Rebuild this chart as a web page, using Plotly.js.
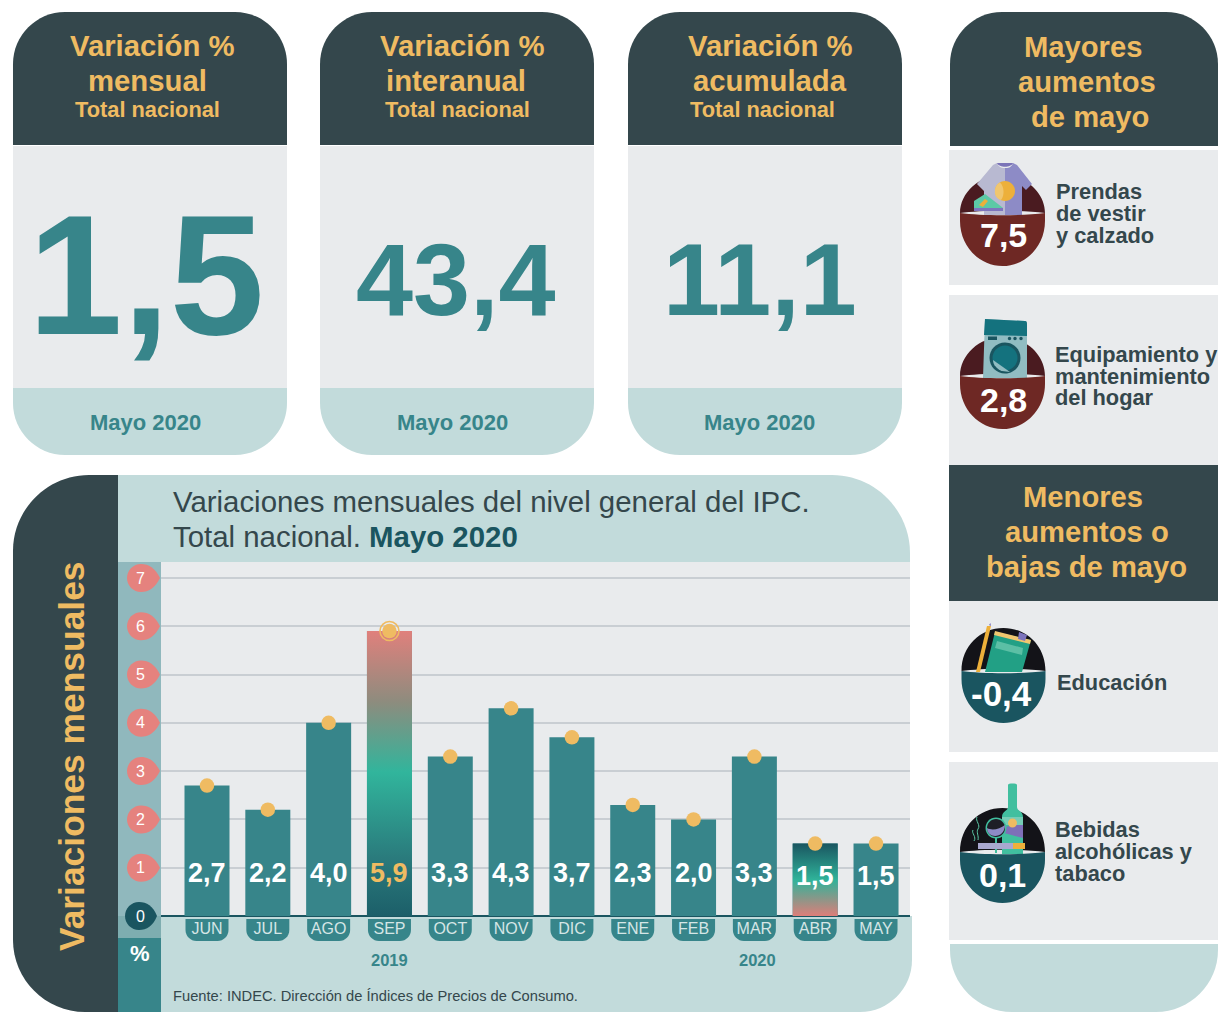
<!DOCTYPE html>
<html><head><meta charset="utf-8">
<script src="https://cdn.plot.ly/plotly-3.0.1.min.js"></script>
<style>html,body{margin:0;padding:0;background:#fff;overflow:hidden}#c{width:1218px;height:1012px}</style>
</head><body><div id="c"></div>
<script>
// ---------- data ----------
const months = ['JUN','JUL','AGO','SEP','OCT','NOV','DIC','ENE','FEB','MAR','ABR','MAY'];
const values = [2.7,2.2,4.0,5.9,3.3,4.3,3.7,2.3,2.0,3.3,1.5,1.5];
const years = ['2019','2020'];
const yTicks = [0,1,2,3,4,5,6,7];
const headlineTitles = [['Variación %','mensual'],['Variación %','interanual'],['Variación %','acumulada']];
const headlineValues = ['1,5','43,4','11,1'];
const period = 'Mayo 2020';
const scope = 'Total nacional';
const rises = [{v:'7,5',t:['Prendas','de vestir','y calzado']},{v:'2,8',t:['Equipamiento y','mantenimiento','del hogar']}];
const falls = [{v:'-0,4',t:['Educación']},{v:'0,1',t:['Bebidas','alcohólicas y','tabaco']}];

// ---------- palette / helpers ----------
const W=1218,H=1012,F='Liberation Sans';
const DARK='#34474c',TEAL='#37858a',PALE='#c2dbdb',GREY='#e9ebed',GOLD='#efbb62',DEEP='#1a5560',PINK='#e5827e';
const fmt=v=>v.toFixed(1).replace('.',',');
const PX=x=>x/W, PY=y=>1-y/H;
function P(d){let isX=true;return d.replace(/-?\d+(\.\d+)?/g,m=>{const r=isX?PX(+m):PY(+m);isX=!isX;return r.toFixed(5);});}
const shapes=[],ann=[];
function S(d,fill,layer){shapes.push({type:'path',xref:'paper',yref:'paper',path:P(d),fillcolor:fill,line:{width:0},layer:layer||'below'});}
function L(d,color,w,layer){shapes.push({type:'path',xref:'paper',yref:'paper',path:P(d),fillcolor:'rgba(0,0,0,0)',line:{color:color,width:w},layer:layer||'above'});}
function rr(x0,y0,x1,y1,r){const [a,b,c,d]=r,k=0.45;
 return `M ${x0+a} ${y0} L ${x1-b} ${y0} C ${x1-b*k} ${y0} ${x1} ${y0+b*k} ${x1} ${y0+b} L ${x1} ${y1-c} C ${x1} ${y1-c*k} ${x1-c*k} ${y1} ${x1-c} ${y1} L ${x0+d} ${y1} C ${x0+d*k} ${y1} ${x0} ${y1-d*k} ${x0} ${y1-d} L ${x0} ${y0+a} C ${x0} ${y0+a*k} ${x0+a*k} ${y0} ${x0+a} ${y0} Z`;}
function box(x0,y0,x1,y1,fill,r,layer){S(rr(x0,y0,x1,y1,r||[0,0,0,0]),fill,layer);}
function circ(cx,cy,r,fill,layer){const k=.5523*r;S(`M ${cx-r} ${cy} C ${cx-r} ${cy-k} ${cx-k} ${cy-r} ${cx} ${cy-r} C ${cx+k} ${cy-r} ${cx+r} ${cy-k} ${cx+r} ${cy} C ${cx+r} ${cy+k} ${cx+k} ${cy+r} ${cx} ${cy+r} C ${cx-k} ${cy+r} ${cx-r} ${cy+k} ${cx-r} ${cy} Z`,fill,layer||'above');}
function T(text,x,y,size,color,o){o=o||{};const left=o.anchor==='left';ann.push({text:text,xref:'paper',yref:'paper',x:PX(left?x-2:x),y:PY(y),xanchor:o.anchor||'center',yanchor:'middle',showarrow:false,textangle:o.angle||0,font:{family:F,size:size,color:color,weight:o.weight||700}});}
function blobTop(cx,top,split,w,fill){S(`M ${cx-w} ${split} C ${cx-w} ${top+18} ${cx-w*.55} ${top} ${cx} ${top} C ${cx+w*.55} ${top} ${cx+w} ${top+18} ${cx+w} ${split} C ${cx+w*.5} ${split-3} ${cx-w*.5} ${split-3} ${cx-w} ${split} Z`,fill,'above');}
function blobBottom(cx,bottom,split,w,fill){S(`M ${cx-w} ${split} C ${cx-w*.5} ${split+3} ${cx+w*.5} ${split+3} ${cx+w} ${split} L ${cx+w} ${split+8} C ${cx+w} ${bottom-20} ${cx+w*.55} ${bottom} ${cx} ${bottom} C ${cx-w*.55} ${bottom} ${cx-w} ${bottom-20} ${cx-w} ${split+8} Z`,fill,'above');}

// ---------- headline cards ----------
const cardX=[13,320,628];
const titleX=[[152,147],[462,456],[770,770]], scopeX=[147,457,762], periodX=[145,452,759];
const bigSize=[170,102.5,102.5], bigY=[275,280,280], bigX=[145.5,455.5,759.5];
cardX.forEach((x,i)=>{
 box(x,12,x+274,145,DARK,[52,52,0,0]);
 box(x,146,x+274,388,GREY);
 box(x,388,x+274,455,PALE,[0,0,52,52]);
 headlineTitles[i].forEach((t,j)=>T(t,titleX[i][j],46+35*j,29.3,GOLD));
 T(scope,scopeX[i],109.5,21.8,GOLD);
 T(headlineValues[i],bigX[i],bigY[i],bigSize[i],TEAL);
 T(period,periodX[i],423,22,TEAL);
});

// ---------- right column ----------
box(950,12,1218,146,DARK,[52,52,0,0]);
box(949,150,1218,285,GREY);
box(949,295,1218,465,GREY);
box(949,465,1218,601,DARK);
box(949,601,1218,752,GREY);
box(949,762,1218,940,GREY);
box(950,944,1218,1012,PALE,[0,0,62,62]);
[['Mayores',1083,47],['aumentos',1087,82],['de mayo',1090,117],['Menores',1083,497],['aumentos o',1087,532],['bajas de mayo',1086,567]].forEach(r=>T(r[0],r[1],r[2],29.2,GOLD));
function sideText(lines,x,y0){lines.forEach((l,i)=>T(l,x,y0+22*i,21.8,DARK,{anchor:'left'}));}

// shirt + shoe
const RED_T='#4a1b20',RED_B='#6e2824',BLK='#131318';
blobTop(1002.5,175,213,42.5,RED_T);
S('M 997 163 C 999 168 1003 168 1005 168 L 1005 215 L 984 215 L 984 191 L 977 184 L 993 165 Z','#b8b9d1','above');
S('M 1005 168 C 1008 168 1011 168 1013 163 L 1017 165 L 1032 184 L 1026 190 L 1022 186 L 1022 215 L 1005 215 Z','#8d8bc6','above');
S('M 997 163 C 999 168 1011 168 1013 163 Z','#7b74b8','above');
circ(1005,191,10,'#edb03a');
S('M 1000 182.4 C 994 184 992 198 1001 200 C 1005 195 1004 186 1000 182.4 Z','#f0c66f','above');
S('M 974 201 L 985 194 L 998 204 L 1003 208 L 974 208 Z','#5cc9a6','above');
S('M 979 205 L 985 199 L 988 201 L 983 207 Z','#edb03a','above');
S('M 974 208 L 1003 208 L 1003 211 L 974 211 Z','#7e75bd','above');
blobBottom(1002.5,266,213,42.5,RED_B);
T(rises[0].v,1003,235,34,'#fff');
sideText(rises[0].t,1056,191);

// washing machine
blobTop(1002.5,337,376,42.5,RED_T);
S('M 985 319 L 1025 321 C 1027 321 1027 323 1027 325 L 1027 378 L 983 378 Z','#91bcc2','above');
S('M 985 319 L 1025 321 C 1027 321 1027 323 1027 325 L 1027 336 L 984 335 Z','#14727e','above');
circ(1005,358,15.5,'#1a5560');
circ(1005,358,12.5,'#14727e');
S('M 993 360 L 1010 372 L 1002 371 C 997 369 993 365 993 360 Z','#91bcc2','above');
S('M 988 336.5 L 997 336.5 L 997 340 L 988 340 Z','#1a5560','above');
circ(1009.5,338.5,1.7,'#1a5560');circ(1015,338.5,1.7,'#1a5560');circ(1021,338.5,1.7,'#1a5560');
blobBottom(1002.5,429,376,42.5,RED_B);
T(rises[1].v,1003,400,34,'#fff');
sideText(rises[1].t,1055,354);

// book + pencil
blobTop(1003.5,628,671,42,BLK);
S('M 995 632 L 1031 640 L 1022 672 L 985 672 Z','#22a085','above');
S('M 995 631 L 1031 640 L 1030 644 L 994 635 Z','#f0c66f','above');
S('M 1019 632 L 1027 635 L 1025 641 L 1018 639 Z','#7e75bd','above');
S('M 997 641 L 1023 648 L 1022 655 L 995 648 Z','#5cbfa5','above');
S('M 987 626 L 991 626 L 980 672 L 976 672 Z','#edb03a','above');
S('M 989 625 L 990.5 623 L 991 626 Z','#7e75bd','above');
blobBottom(1003.5,723,671,42,DEEP);
T(falls[0].v,1001,693,35,'#fff');
sideText(falls[0].t,1057,682);

// bottle, glass, cigarette
blobTop(1002.5,808,852,42.5,BLK);
S('M 1008 785 C 1008 783 1017 783 1017 785 L 1017 807 C 1017 811 1023 811 1023 817 L 1023 854 L 1002 854 L 1002 817 C 1002 811 1008 811 1008 807 Z','#41bf9f','above');
S('M 1004 827 L 1023 824 L 1023 838 L 1004 833 Z','#7e6fb8','above');
S('M 1002 817 L 1023 817 L 1023 825 L 1002 825 Z','#76cdb6','above');
circ(996,828,10.5,'#41bf9f');
circ(996,828,9,'#1e1e26');
S('M 987 828 C 992 831 1000 829 1005 825 C 1005 839 987 839 987 828 Z','#8d8bc6','above');
S('M 995 838 L 997 838 L 997 853 L 995 853 Z','#41bf9f','above');
S('M 978 843 L 1013 843 L 1013 849 L 978 849 Z','#a9a8cf','above');
S('M 1013 843 L 1025 843 L 1025 849 L 1013 849 Z','#edb03a','above');
circ(1012.5,823,4.5,GOLD);
L('M 977 817 C 975 821 981 825 978 829 C 976 832 979 836 978 840','#5cc9a6',1);
L('M 973 830 C 971 833 977 837 974 841','#5cc9a6',1);
blobBottom(1002.5,903,852,42.5,DEEP);
T(falls[1].v,1002,875,34,'#fff');
sideText(falls[1].t,1055,829);

// ---------- chart panel ----------
box(13,475,118,1012,DARK,[76,0,0,72]);
box(118,475,910,562,PALE,[0,78,0,0]);
box(161,916,912,1012,PALE,[0,0,52,0]);
box(118,562,161,916,'#90b8bd');
box(118,916,161,938,'#7eadb0');
box(118,938,161,1012,TEAL);
T('Variaciones mensuales',72,756,35.4,GOLD,{angle:-90});
T('%',140,953,22,'#fff');
T('Fuente: INDEC. Dirección de Índices de Precios de Consumo.',173,996,14.7,DARK,{anchor:'left',weight:400});
T('Total nacional. <b style="color:#1a5560">Mayo 2020</b>',173,536,29.4,DARK,{anchor:'left',weight:400});

const barWidth=0.74, barY0=916, unitPx=48.3;
const idx=months.map((_,i)=>i);
// axis pins / month tabs
yTicks.forEach(t=>{
 const y=barY0-unitPx*t, zero=t===0;
 const cx=zero?139:141, tip=zero?157:160, r=14;
 const k=.5523*r;
 S(`M ${tip} ${y} C ${cx+r} ${y-10} ${cx+k} ${y-r} ${cx} ${y-r} C ${cx-k} ${y-r} ${cx-r} ${y-k} ${cx-r} ${y} C ${cx-r} ${y+k} ${cx-k} ${y+r} ${cx} ${y+r} C ${cx+k} ${y+r} ${cx+r} ${y+10} ${tip} ${y} Z`,zero?DEEP:PINK);
});
const centerPx=i=>207+60.82*i;
months.forEach((m,i)=>{const c=centerPx(i);box(c-21.5,919,c+21.5,941,TEAL,[0,0,11,11]);});
T(years[0],389,960,16.5,TEAL);
T(years[1],757,960,16.5,TEAL);
// value labels on the bars
values.forEach((v,i)=>ann.push({text:fmt(v),x:i,xref:'x',y:PY(i>=10?876:872.5),yref:'paper',yanchor:'middle',showarrow:false,
  font:{family:F,size:27,weight:700,color:months[i]==='SEP'?GOLD:'#fff'}}));

function gradientBar(month,stops){const i=months.indexOf(month),v=values[i],h=barWidth/2;
 return {type:'scatter',x:[i-h,i+h,i+h,i-h,i-h],y:[0,0,v,v,0],mode:'lines',line:{width:0,color:'rgba(0,0,0,0)'},fill:'toself',
  fillgradient:{type:'vertical',colorscale:stops},hoverinfo:'skip',showlegend:false};}

const traces=[
 {type:'bar',x:idx,y:values,width:barWidth,marker:{color:TEAL,line:{width:0}},hoverinfo:'skip',showlegend:false},
 gradientBar('SEP',[[0,'#1c5f69'],[0.2,'#2a7a7c'],[0.505,'#31b59c'],[0.75,'#8d8c7e'],[1,'#e0807c']]),
 gradientBar('ABR',[[0,'#dd7e79'],[0.5,'#2fb39a'],[1,'#1a5560']]),
 {type:'scatter',x:idx,y:values,mode:'markers',marker:{color:GOLD,size:14.5,line:{width:0}},hoverinfo:'skip',showlegend:false},
 {type:'scatter',x:[months.indexOf('SEP')],y:[values[months.indexOf('SEP')]],mode:'markers',marker:{symbol:'circle-open',color:GOLD,size:19,line:{width:1.6,color:GOLD}},hoverinfo:'skip',showlegend:false}
];

const layout={
 width:W,height:H,autosize:false,margin:{l:0,r:0,t:0,b:0,pad:0},paper_bgcolor:'#fff',plot_bgcolor:GREY,showlegend:false,hovermode:false,
 title:{text:'Variaciones mensuales del nivel general del IPC.',
   x:PX(173),xref:'paper',xanchor:'left',y:PY(502),yref:'paper',yanchor:'middle',font:{family:F,size:29.4,color:DARK}},
 xaxis:{domain:[PX(161),PX(910)],range:[(161-207)/60.82,(910-207)/60.82],tickmode:'array',tickvals:idx,ticktext:months,showgrid:false,zeroline:false,
   showline:false,ticks:'',ticklabelstandoff:1,tickfont:{family:F,size:16,color:'#d5e6e6'},fixedrange:true},
 yaxis:{domain:[PY(916),PY(562)],range:[0,(916-562)/unitPx],tickmode:'array',tickvals:yTicks,ticktext:yTicks.map(String),showgrid:true,gridcolor:'#c9ced3',gridwidth:2,
   zeroline:true,zerolinecolor:DEEP,zerolinewidth:2,ticks:'outside',ticklen:12,tickcolor:'rgba(0,0,0,0)',tickfont:{family:F,size:16,color:'#fff'},fixedrange:true},
 shapes:shapes,annotations:ann
};
Plotly.newPlot('c',traces,layout,{displayModeBar:false,staticPlot:true});
</script></body></html>
